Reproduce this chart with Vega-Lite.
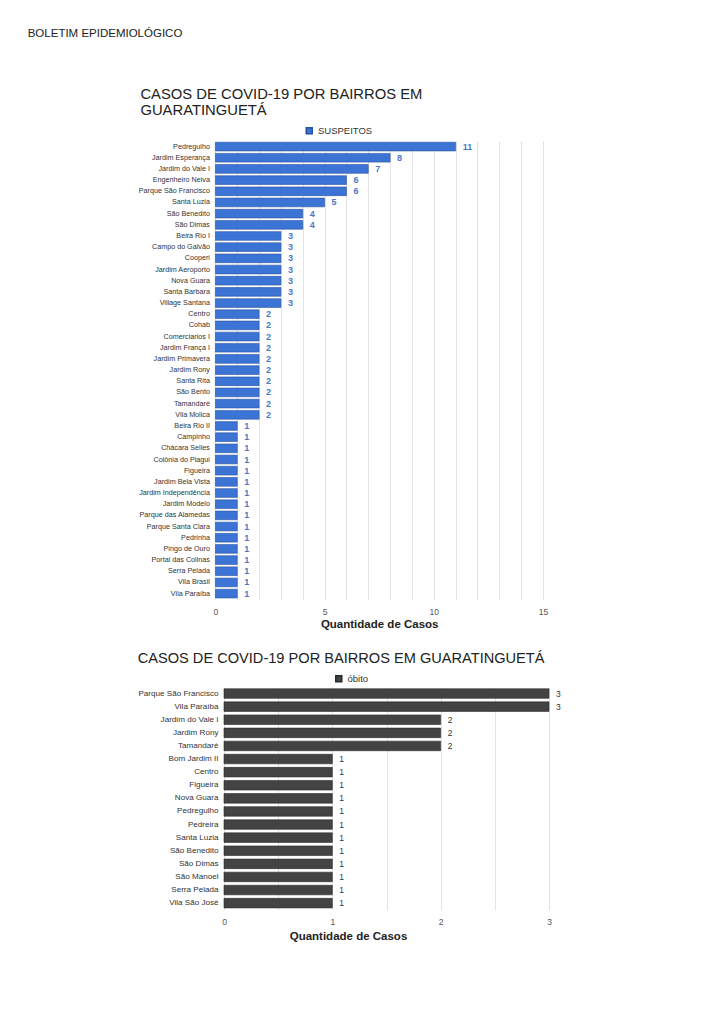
{
  "$schema": "https://vega.github.io/schema/vega-lite/v6.json",
  "background": "white",
  "padding": {"left": 27, "top": 27, "right": 10, "bottom": 10},
  "title": {"text": "BOLETIM EPIDEMIOLÓGICO", "anchor": "start", "frame": "bounds", "dx": -110, "font": "Liberation Sans", "fontSize": 11.5, "fontWeight": "normal", "color": "#222222", "offset": 48},
  "config": {
    "font": "Liberation Sans",
    "view": {"stroke": null},
    "axis": {"labelFlush": false},
    "legend": {"symbolType": "square", "symbolSize": 36, "labelFontSize": 9.5, "labelColor": "#333333", "labelOffset": 4, "padding": 0, "title": null, "labelFont": "Liberation Sans"}
  },
  "align": "none",
  "spacing": 20,
  "resolve": {"scale": {"color": "independent", "x": "independent", "y": "independent"}, "legend": {"color": "independent"}},
  "vconcat": [
    {
      "width": 319,
      "height": 458.2,
      "title": {"text": ["CASOS DE COVID-19 POR BAIRROS EM", "GUARATINGUETÁ"], "anchor": "start", "frame": "group", "dx": -83.6, "fontSize": 14.8, "lineHeight": 16, "font": "Liberation Sans", "fontWeight": "normal", "color": "#222222", "offset": 8},
      "data": {"values": [
        {"bairro": "Pedregulho", "casos": 11},
        {"bairro": "Jardim Esperança", "casos": 8},
        {"bairro": "Jardim do Vale I", "casos": 7},
        {"bairro": "Engenheiro Neiva", "casos": 6},
        {"bairro": "Parque São Francisco", "casos": 6},
        {"bairro": "Santa Luzia", "casos": 5},
        {"bairro": "São Benedito", "casos": 4},
        {"bairro": "São Dimas", "casos": 4},
        {"bairro": "Beira Rio I", "casos": 3},
        {"bairro": "Campo do Galvão", "casos": 3},
        {"bairro": "Cooperi", "casos": 3},
        {"bairro": "Jardim Aeroporto", "casos": 3},
        {"bairro": "Nova Guara", "casos": 3},
        {"bairro": "Santa Barbara", "casos": 3},
        {"bairro": "Village Santana", "casos": 3},
        {"bairro": "Centro", "casos": 2},
        {"bairro": "Cohab", "casos": 2},
        {"bairro": "Comerciarios I", "casos": 2},
        {"bairro": "Jardim França I", "casos": 2},
        {"bairro": "Jardim Primavera", "casos": 2},
        {"bairro": "Jardim Rony", "casos": 2},
        {"bairro": "Santa Rita", "casos": 2},
        {"bairro": "São Bento", "casos": 2},
        {"bairro": "Tamandaré", "casos": 2},
        {"bairro": "Vila Molica", "casos": 2},
        {"bairro": "Beira Rio II", "casos": 1},
        {"bairro": "Campinho", "casos": 1},
        {"bairro": "Chácara Selles", "casos": 1},
        {"bairro": "Colônia do Piagui", "casos": 1},
        {"bairro": "Figueira", "casos": 1},
        {"bairro": "Jardim Bela Vista", "casos": 1},
        {"bairro": "Jardim Independência", "casos": 1},
        {"bairro": "Jardim Modelo", "casos": 1},
        {"bairro": "Parque das Alamedas", "casos": 1},
        {"bairro": "Parque Santa Clara", "casos": 1},
        {"bairro": "Pedrinha", "casos": 1},
        {"bairro": "Pingo de Ouro", "casos": 1},
        {"bairro": "Portal das Colinas", "casos": 1},
        {"bairro": "Serra Pelada", "casos": 1},
        {"bairro": "Vila Brasil", "casos": 1},
        {"bairro": "Vila Paraíba", "casos": 1}
      ]},
      "encoding": {
        "y": {"field": "bairro", "type": "nominal", "sort": null, "scale": {"paddingInner": 0.22, "paddingOuter": 0.11},
              "axis": {"title": null, "ticks": false, "domain": false, "labelFontSize": 7.2, "labelColor": "#333333", "labelPadding": 14.6, "labelLimit": 200}},
        "x": {"field": "casos", "type": "quantitative", "scale": {"domain": [0, 15], "nice": false, "range": [-8.6, 319]},
              "axis": {"values": [0,1,2,3,4,5,6,7,8,9,10,11,12,13,14,15], "labelExpr": "datum.value % 5 === 0 ? datum.label : ''", "ticks": false, "domain": false, "grid": true, "gridColor": "#e2e2e2", "labelFontSize": 8.5, "labelColor": "#555555", "labelPadding": 8, "title": "Quantidade de Casos", "titleX": 155.2, "titleAlign": "center", "titleFontSize": 11.5, "titleFontWeight": "bold", "titleColor": "#222222", "titlePadding": 3}}
      },
      "layer": [
        {"mark": {"type": "bar", "stroke": "#2650a0", "strokeWidth": 0.6},
         "encoding": {"color": {"datum": "SUSPEITOS", "type": "nominal", "scale": {"range": ["#3c74d6"]},
            "legend": {"orient": "none", "legendX": 80.5, "legendY": -15}}}},
        {"mark": {"type": "text", "align": "left", "dx": 7, "fontWeight": "bold", "fontSize": 9, "color": "#4a78c8"},
         "encoding": {"text": {"field": "casos", "type": "quantitative"}}}
      ]
    },
    {
      "width": 325,
      "height": 222.7,
      "title": {"text": "CASOS DE COVID-19 POR BAIRROS EM GUARATINGUETÁ", "anchor": "start", "frame": "group", "dx": -86.3, "fontSize": 14.6, "font": "Liberation Sans", "fontWeight": "normal", "color": "#222222", "offset": 8},
      "data": {"values": [
        {"bairro": "Parque São Francisco", "casos": 3},
        {"bairro": "Vila Paraíba", "casos": 3},
        {"bairro": "Jardim do Vale I", "casos": 2},
        {"bairro": "Jardim Rony", "casos": 2},
        {"bairro": "Tamandaré", "casos": 2},
        {"bairro": "Bom Jardim II", "casos": 1},
        {"bairro": "Centro", "casos": 1},
        {"bairro": "Figueira", "casos": 1},
        {"bairro": "Nova Guara", "casos": 1},
        {"bairro": "Pedregulho", "casos": 1},
        {"bairro": "Pedreira", "casos": 1},
        {"bairro": "Santa Luzia", "casos": 1},
        {"bairro": "São Benedito", "casos": 1},
        {"bairro": "São Dimas", "casos": 1},
        {"bairro": "São Manoel", "casos": 1},
        {"bairro": "Serra Pelada", "casos": 1},
        {"bairro": "Vila São José", "casos": 1}
      ]},
      "encoding": {
        "y": {"field": "bairro", "type": "nominal", "sort": null, "scale": {"paddingInner": 0.27, "paddingOuter": 0.135},
              "axis": {"title": null, "ticks": false, "domain": false, "labelFontSize": 8.1, "labelColor": "#333333", "labelPadding": 6, "labelLimit": 200}},
        "x": {"field": "casos", "type": "quantitative", "scale": {"domain": [0, 3], "nice": false},
              "axis": {"values": [0, 0.5, 1, 1.5, 2, 2.5, 3], "labelExpr": "datum.value % 1 === 0 ? format(datum.value, 'd') : ''", "ticks": false, "domain": false, "grid": true, "gridColor": "#e2e2e2", "labelFontSize": 8.5, "labelColor": "#555555", "labelPadding": 7.5, "title": "Quantidade de Casos", "titleX": 124, "titleAlign": "center", "titleFontSize": 11.5, "titleFontWeight": "bold", "titleColor": "#222222", "titlePadding": 5}}
      },
      "layer": [
        {"mark": {"type": "bar", "stroke": "#2a2a2a", "strokeWidth": 0.6},
         "encoding": {"color": {"datum": "óbito", "type": "nominal", "scale": {"range": ["#434343"]},
            "legend": {"orient": "none", "legendX": 110, "legendY": -13}}}},
        {"mark": {"type": "text", "align": "left", "dx": 7, "fontSize": 8.5, "color": "#333333"},
         "encoding": {"text": {"field": "casos", "type": "quantitative"}}}
      ]
    }
  ]
}
